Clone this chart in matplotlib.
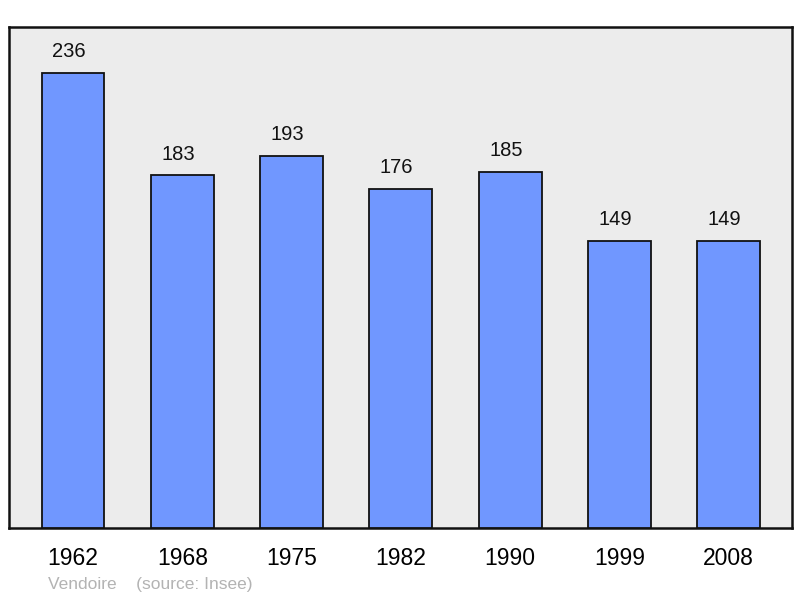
import matplotlib
matplotlib.use("Agg")
import matplotlib.pyplot as plt

years = ["1962", "1968", "1975", "1982", "1990", "1999", "2008"]
population = [236, 183, 193, 176, 185, 149, 149]

W, H = 800, 598
plt.rcParams['font.family'] = ['Liberation Sans', 'DejaVu Sans']
fig = plt.figure(figsize=(W / 100, H / 100), dpi=100)
ax = fig.add_axes([9 / W, (H - 528) / H, 783 / W, 501 / H])
ax.set_facecolor("#ececec")

x = list(range(len(years)))
ax.bar(x, population, width=0.575, color="#7097ff", edgecolor="#111111",
       linewidth=1.3, zorder=3)
for xi, v in zip(x, population):
    ax.annotate(str(v), (xi, v), xytext=(-3, 8.5), textcoords="offset points",
                ha="center", va="bottom", fontsize=14.5, color="#111111")

ax.set_xlim(-0.586, 6.58)
ax.set_ylim(0, 260)
ax.set_yticks([])
ax.set_xticks(x)
ax.set_xticklabels(years, fontsize=16.5)
ax.tick_params(axis="x", length=0, pad=14)
for s in ax.spines.values():
    s.set_linewidth(1.8)
    s.set_color("#111111")

fig.text(48 / W, 1 - 585 / H, "Vendoire    (source: Insee)", fontsize=12.5,
         color="#b3b3b3", va="center", ha="left")

fig.savefig("out.png", dpi=100)
